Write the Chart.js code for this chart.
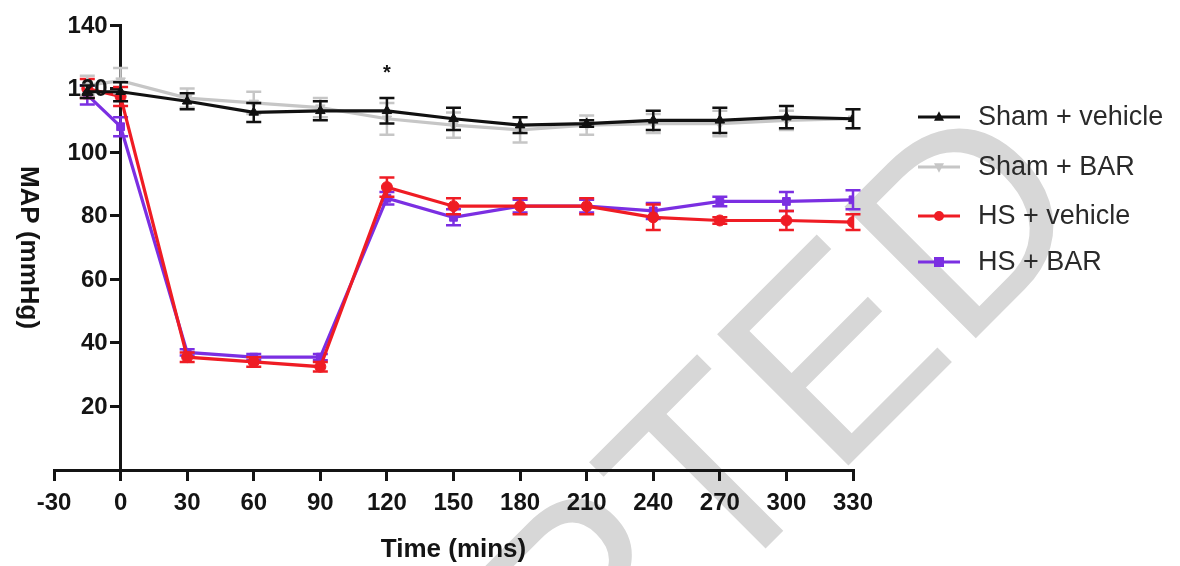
<!DOCTYPE html>
<html>
<head>
<meta charset="utf-8">
<title>MAP over time</title>
<script src="https://cdn.jsdelivr.net/npm/chart.js@4.4.1/dist/chart.umd.min.js"></script>
<style>
  html, body { margin: 0; padding: 0; background: #fff; }
  #wrap { width: 1180px; height: 566px; }
</style>
</head>
<body>
<div id="wrap"><canvas id="mapChart" width="1180" height="566"></canvas></div>
<script>
// time points (mins) and axis ticks
const times = [-15, 0, 30, 60, 90, 120, 150, 180, 210, 240, 270, 300, 330];
const xTicks = [-30, 0, 30, 60, 90, 120, 150, 180, 210, 240, 270, 300, 330];
const yTicks = [0, 20, 40, 60, 80, 100, 120, 140];

// mean MAP (mmHg) per group
const shamVehicle = [119, 119, 116, 112.5, 113, 113, 110.5, 108.5, 109, 110, 110, 111, 110.5];
const shamBar     = [121, 122.5, 117, 115.5, 114, 110.5, 108.5, 107, 108.5, 109, 109, 110, 110.5];
const hsVehicle   = [120, 117.5, 35.5, 34, 32.5, 89, 83, 83, 83, 79.5, 78.5, 78.5, 78];
const hsBar       = [118, 108, 37, 35.5, 35.5, 85.5, 79.5, 83, 83, 81.5, 84.5, 84.5, 85];

// SEM per group
const shamVehicleErr = [2, 3, 2.5, 3, 3, 4, 3.5, 2.5, 1, 3, 4, 3.5, 3];
const shamBarErr     = [3, 4, 3, 3.5, 3, 5, 4, 4, 3, 3, 4, 3, 3];
const hsVehicleErr   = [3, 3, 1.5, 1.5, 1.5, 3, 2.5, 2.5, 2.5, 4, 1, 3, 2.5];
const hsBarErr       = [3, 3, 1, 1, 1, 2, 2.5, 2, 2, 2.5, 1.5, 3, 3];

const groupNames = ['Sham + vehicle', 'Sham + BAR', 'HS + vehicle', 'HS + BAR'];
const starAt = { x: 120, y: 126 };

const FONT = '"Liberation Sans", Arial, Helvetica, sans-serif';
const INK = '#141414';

const series = [
  { label: groupNames[0], values: shamVehicle, errors: shamVehicleErr, color: '#111111', style: 'triangle', rot: 0 },
  { label: groupNames[1], values: shamBar,     errors: shamBarErr,     color: '#c6c6c6', style: 'triangle', rot: 180 },
  { label: groupNames[2], values: hsVehicle,   errors: hsVehicleErr,   color: '#ef1c24', style: 'circle',   rot: 0 },
  { label: groupNames[3], values: hsBar,       errors: hsBarErr,       color: '#7b2fe2', style: 'rect',     rot: 0 },
];

// faint diagonal watermark, under everything
const watermark = {
  id: 'watermark',
  beforeDraw(chart) {
    const ctx = chart.ctx;
    ctx.save();
    ctx.translate(1098, 216);
    ctx.rotate(-Math.PI / 4);
    ctx.font = '270px ' + FONT;
    ctx.fillStyle = '#d7d7d7';
    ctx.textAlign = 'right';
    ctx.textBaseline = 'alphabetic';
    ctx.fillText('ACCEPTED', 0, 0);
    ctx.restore();
  }
};

// SEM bars drawn right after each line so layering follows the datasets
const errorBars = {
  id: 'errorBars',
  afterDatasetDraw(chart, args) {
    const ds = chart.data.datasets[args.index];
    const { x: xs, y: ys } = chart.scales;
    const ctx = chart.ctx;
    ctx.save();
    ctx.strokeStyle = ds.borderColor;
    ctx.lineWidth = 2.5;
    ds.data.forEach((p, j) => {
      const e = ds.errors[j];
      const px = xs.getPixelForValue(p.x);
      const top = ys.getPixelForValue(p.y + e);
      const bot = ys.getPixelForValue(p.y - e);
      ctx.beginPath();
      ctx.moveTo(px, top); ctx.lineTo(px, bot);
      ctx.moveTo(px - 7.5, top); ctx.lineTo(px + 7.5, top);
      ctx.moveTo(px - 7.5, bot); ctx.lineTo(px + 7.5, bot);
      ctx.stroke();
    });
    ctx.restore();
  }
};

function marker(ctx, style, rot, x, y, r) {
  ctx.save();
  ctx.translate(x, y);
  ctx.rotate(rot * Math.PI / 180);
  ctx.beginPath();
  if (style === 'circle') {
    ctx.arc(0, 0, r, 0, Math.PI * 2);
  } else if (style === 'rect') {
    ctx.rect(-r, -r, 2 * r, 2 * r);
  } else {
    ctx.moveTo(0, -r * 1.15);
    ctx.lineTo(r, r * 0.75);
    ctx.lineTo(-r, r * 0.75);
    ctx.closePath();
  }
  ctx.fill();
  ctx.restore();
}

// y tick labels (the axis sits at x = 0, so place them left of its tick marks),
// significance star and the legend on the right
const extras = {
  id: 'extras',
  afterDraw(chart) {
    const ctx = chart.ctx;
    const { x: xs, y: ys } = chart.scales;
    ctx.save();
    ctx.fillStyle = INK;
    ctx.font = 'bold 24px ' + FONT;
    ctx.textAlign = 'right';
    ctx.textBaseline = 'middle';
    const axisX = xs.getPixelForValue(0);
    yTicks.filter(v => v !== 0).forEach(v => {
      ctx.fillText(String(v), axisX - 13, ys.getPixelForValue(v) + 1);
    });

    ctx.font = 'bold 20px ' + FONT;
    ctx.textAlign = 'center';
    ctx.fillText('*', xs.getPixelForValue(starAt.x), ys.getPixelForValue(starAt.y) + 4);

    const rows = [117, 167, 216, 262];
    series.forEach((s, i) => {
      const y = rows[i];
      ctx.strokeStyle = s.color;
      ctx.fillStyle = s.color;
      ctx.lineWidth = 3;
      ctx.beginPath();
      ctx.moveTo(918, y); ctx.lineTo(960, y);
      ctx.stroke();
      marker(ctx, s.style, s.rot, 939, y, 5);
      ctx.fillStyle = '#2a2a2a';
      ctx.font = '27px ' + FONT;
      ctx.textAlign = 'left';
      ctx.fillText(s.label, 978, y + 1);
    });
    ctx.restore();
  }
};

const axisGrid = {
  drawOnChartArea: false,
  drawTicks: true,
  tickLength: 9,
  lineWidth: 3,
  color: INK
};

new Chart(document.getElementById('mapChart'), {
  type: 'line',
  data: {
    datasets: series.map(s => ({
      label: s.label,
      data: times.map((t, j) => ({ x: t, y: s.values[j] })),
      errors: s.errors,
      borderColor: s.color,
      backgroundColor: s.color,
      borderWidth: 3.2,
      pointStyle: s.style,
      pointRotation: s.rot,
      pointRadius: 5.5,
      pointBorderWidth: 1,
      tension: 0,
      fill: false
    }))
  },
  options: {
    responsive: false,
    animation: false,
    layout: { padding: { left: 54, right: 327, top: 25, bottom: 96 } },
    plugins: {
      legend: { display: false },
      tooltip: { enabled: false }
    },
    scales: {
      x: {
        type: 'linear',
        position: { y: 0 },
        min: -30, max: 330,
        afterBuildTicks: s => { s.ticks = xTicks.map(v => ({ value: v })); },
        ticks: { color: INK, padding: 10, font: { family: FONT, size: 24, weight: 'bold' } },
        grid: axisGrid,
        border: { display: true, color: INK, width: 3 },
        title: {
          display: true, text: 'Time (mins)', color: INK,
          font: { family: FONT, size: 26, weight: 'bold' },
          padding: { top: 6, bottom: 0 }
        }
      },
      y: {
        type: 'linear',
        position: { x: 0 },
        min: 0, max: 140,
        afterBuildTicks: s => { s.ticks = yTicks.map(v => ({ value: v })); },
        ticks: {
          // sized for layout only; the visible labels are drawn by the extras plugin
          color: 'rgba(0,0,0,0)', padding: 3,
          font: { family: FONT, size: 24, weight: 'bold' },
          callback: v => (v === 0 ? '' : v)
        },
        grid: Object.assign({}, axisGrid, {
          tickColor: c => (c.tick && c.tick.value === 0 ? 'rgba(0,0,0,0)' : INK)
        }),
        border: { display: true, color: INK, width: 3 },
        title: {
          display: true, text: 'MAP (mmHg)', color: INK,
          font: { family: FONT, size: 26, weight: 'bold' },
          padding: { top: 22, bottom: 4 }
        }
      }
    }
  },
  plugins: [watermark, errorBars, extras]
});
</script>
</body>
</html>
